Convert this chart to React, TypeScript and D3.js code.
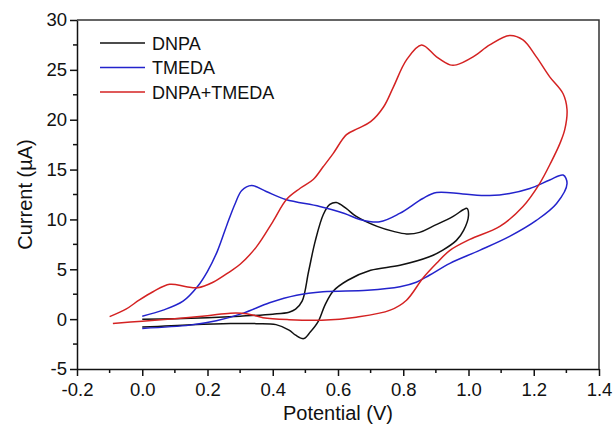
import React, { useRef, useEffect } from 'react';
import * as d3 from 'd3';

// cyclic voltammograms, [potential V, current uA], in scan order
const dnpa: [number, number][] = [
  [0.0, 0.0], [0.1, 0.05], [0.2, 0.15], [0.3, 0.3], [0.4, 0.5], [0.45, 0.7], [0.47, 1.0],
  [0.49, 1.8], [0.51, 4.8], [0.53, 7.8], [0.555, 10.5], [0.575, 11.5], [0.595, 11.7],
  [0.625, 11.1], [0.656, 10.3], [0.72, 9.3], [0.77, 8.8], [0.81, 8.55], [0.85, 8.7],
  [0.89, 9.3], [0.953, 10.3], [0.985, 11.0], [0.995, 11.1], [1.0, 10.4], [0.985, 8.9],
  [0.963, 7.9], [0.92, 6.9], [0.88, 6.25], [0.79, 5.4], [0.7, 4.9], [0.63, 3.9],
  [0.585, 2.8], [0.56, 1.4], [0.54, -0.2], [0.515, -1.3], [0.495, -1.95], [0.47, -1.6],
  [0.45, -1.1], [0.41, -0.55], [0.35, -0.45], [0.27, -0.43], [0.15, -0.55], [0.0, -0.8],
];

const tmeda: [number, number][] = [
  [0.0, 0.3], [0.064, 0.9], [0.125, 1.8], [0.17, 3.3], [0.2, 4.8], [0.23, 6.8],
  [0.26, 9.5], [0.285, 11.6], [0.305, 12.9], [0.335, 13.4], [0.38, 12.8], [0.44, 12.0],
  [0.544, 11.3], [0.62, 10.6], [0.667, 10.0], [0.728, 9.76], [0.789, 10.6], [0.86, 12.1],
  [0.902, 12.7], [0.983, 12.55], [1.065, 12.4], [1.126, 12.6], [1.188, 13.1],
  [1.249, 13.95], [1.29, 14.45], [1.302, 13.6], [1.27, 11.6], [1.208, 9.9], [1.126, 8.3],
  [1.034, 6.9], [0.943, 5.6], [0.88, 4.4], [0.84, 3.7], [0.79, 3.25], [0.69, 2.9],
  [0.554, 2.75], [0.473, 2.4], [0.39, 1.64], [0.31, 0.6], [0.227, -0.17], [0.146, -0.6],
  [0.0, -0.93],
];

const mixed: [number, number][] = [
  [-0.1, 0.25], [-0.05, 1.0], [-0.01, 1.9], [0.033, 2.75], [0.084, 3.5], [0.135, 3.25],
  [0.17, 3.15], [0.217, 3.7], [0.268, 4.75], [0.3, 5.5], [0.35, 7.25], [0.4, 9.76],
  [0.442, 12.0], [0.483, 13.1], [0.524, 14.0], [0.555, 15.3], [0.585, 16.6], [0.626, 18.5],
  [0.66, 19.1], [0.7, 19.8], [0.74, 21.3], [0.77, 23.3], [0.81, 26.0], [0.856, 27.5],
  [0.902, 26.3], [0.943, 25.5], [0.963, 25.5], [1.014, 26.3], [1.065, 27.5], [1.126, 28.45],
  [1.167, 28.0], [1.208, 26.3], [1.249, 24.3], [1.29, 22.6], [1.302, 21.0], [1.295, 19.0],
  [1.28, 17.6], [1.254, 15.8], [1.218, 13.6], [1.167, 11.3], [1.096, 9.3], [1.004, 8.0],
  [0.943, 6.9], [0.902, 5.6], [0.86, 4.1], [0.81, 1.9], [0.76, 0.9], [0.656, 0.2],
  [0.55, -0.1], [0.45, -0.05], [0.37, 0.15], [0.32, 0.55], [0.27, 0.6], [0.2, 0.35],
  [0.1, 0.05], [0.0, -0.2], [-0.09, -0.43],
];

const seriesNames = ['DNPA', 'TMEDA', 'DNPA+TMEDA'];
const seriesColors = ['#111111', '#2323cc', '#d42222'];
const xTicks = [-0.2, 0.0, 0.2, 0.4, 0.6, 0.8, 1.0, 1.2, 1.4];
const yTicks = [-5, 0, 5, 10, 15, 20, 25, 30];

const App = () => {
  const svgRef = useRef<SVGSVGElement>(null);

  useEffect(() => {
    const width = 613;
    const height = 431;
    const margin = { top: 20, right: 14, bottom: 62, left: 77 };
    const font = 'Arial, "Liberation Sans", sans-serif';

    const svg = d3.select(svgRef.current);
    svg.selectAll('*').remove();

    const x = d3.scaleLinear().domain([-0.2, 1.4]).range([margin.left, width - margin.right]);
    const y = d3.scaleLinear().domain([-5, 30]).range([height - margin.bottom, margin.top]);

    const line = d3.line<[number, number]>()
      .x(d => x(d[0]))
      .y(d => y(d[1]))
      .curve(d3.curveCatmullRom.alpha(0.5));

    // curves
    [dnpa, tmeda, mixed].forEach((data, i) => {
      svg.append('path')
        .datum(data)
        .attr('d', line)
        .attr('fill', 'none')
        .attr('stroke', seriesColors[i])
        .attr('stroke-width', 1.5);
    });

    // minor ticks
    const minorX = d3.range(-0.1, 1.4, 0.2);
    const minorY = d3.range(-2.5, 30, 5);
    svg.append('g').selectAll('line').data(minorX).join('line')
      .attr('x1', d => x(d)).attr('x2', d => x(d))
      .attr('y1', y(-5)).attr('y2', y(-5) + 4)
      .attr('stroke', '#111').attr('stroke-width', 1.5);
    svg.append('g').selectAll('line').data(minorY).join('line')
      .attr('y1', d => y(d)).attr('y2', d => y(d))
      .attr('x1', x(-0.2)).attr('x2', x(-0.2) - 4)
      .attr('stroke', '#111').attr('stroke-width', 1.5);

    // axes (plain hyphen for negatives, as in the original)
    const fmtX = (d: number) => d.toFixed(1);
    const xAxis = svg.append('g')
      .attr('transform', `translate(0,${y(-5)})`)
      .call(d3.axisBottom(x).tickValues(xTicks).tickFormat(d => fmtX(+d)).tickSize(7).tickSizeOuter(0));
    const yAxis = svg.append('g')
      .attr('transform', `translate(${x(-0.2)},0)`)
      .call(d3.axisLeft(y).tickValues(yTicks).tickFormat(d => String(d)).tickSize(7).tickSizeOuter(0));

    [xAxis, yAxis].forEach(g => {
      g.select('.domain').attr('stroke', '#111').attr('stroke-width', 1.5);
      g.selectAll('.tick line').attr('stroke', '#111').attr('stroke-width', 1.5);
      g.selectAll('.tick text')
        .attr('font-family', font)
        .attr('font-size', 18.5)
        .attr('fill', '#111');
    });
    xAxis.selectAll('.tick text').attr('y', 10).attr('dy', 17);
    yAxis.selectAll('.tick text').attr('x', -10);

    // top and right frame
    svg.append('path')
      .attr('d', `M${x(-0.2)},${y(30)}H${x(1.4)}V${y(-5)}`)
      .attr('fill', 'none')
      .attr('stroke', '#333')
      .attr('stroke-width', 1.5);

    // axis titles
    svg.append('text')
      .attr('x', (x(-0.2) + x(1.4)) / 2)
      .attr('y', 420)
      .attr('text-anchor', 'middle')
      .attr('font-family', font)
      .attr('font-size', 20)
      .attr('fill', '#111')
      .text('Potential (V)');
    svg.append('text')
      .attr('transform', `translate(32,${(y(-5) + y(30)) / 2}) rotate(-90)`)
      .attr('text-anchor', 'middle')
      .attr('font-family', font)
      .attr('font-size', 20)
      .attr('fill', '#111')
      .text('Current (µA)');

    // legend
    const legend = svg.append('g');
    seriesNames.forEach((name, i) => {
      const ly = 43 + i * 24.5;
      legend.append('line')
        .attr('x1', 100).attr('x2', 145)
        .attr('y1', ly).attr('y2', ly)
        .attr('stroke', seriesColors[i])
        .attr('stroke-width', 1.5);
      legend.append('text')
        .attr('x', 152)
        .attr('y', ly + 6.5)
        .attr('font-family', font)
        .attr('font-size', 18)
        .attr('fill', '#111')
        .text(name);
    });
  }, []);

  return (
    <svg
      ref={svgRef}
      width={613}
      height={431}
      style={{ position: 'absolute', left: 0, top: 0, background: '#fff' }}
    />
  );
};

export default App;
